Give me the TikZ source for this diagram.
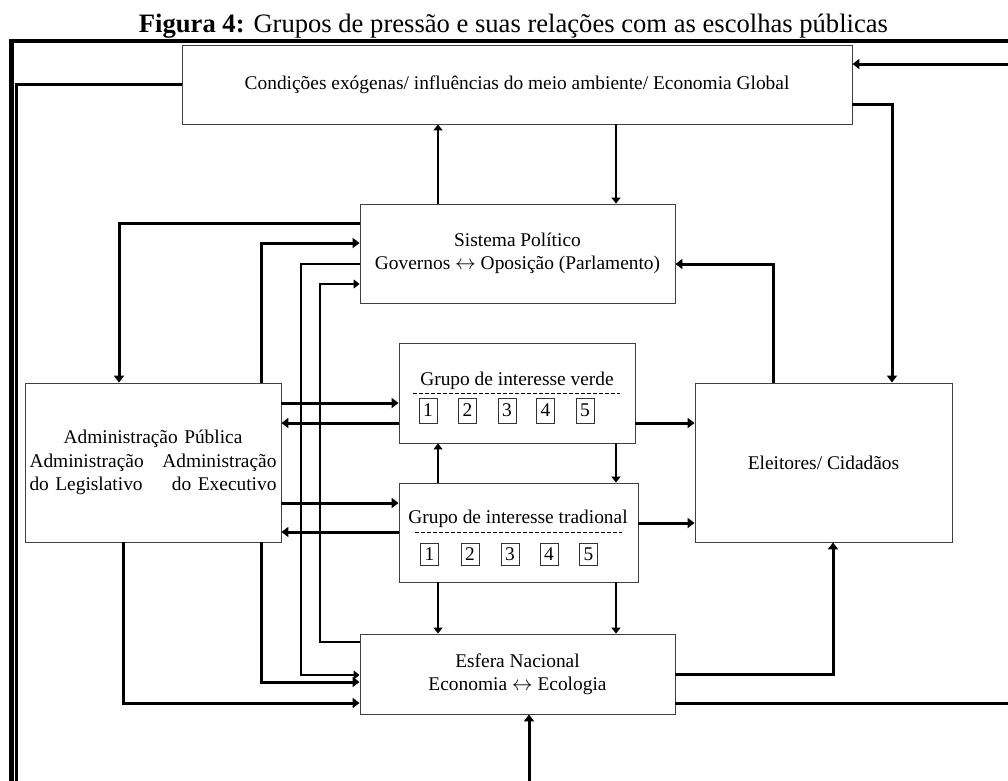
\documentclass[tikz,border=0pt]{standalone}
\usepackage{fontspec}
\setmainfont{Liberation Serif}
\usetikzlibrary{arrows.meta}

\newcommand{\twoway}{\ensuremath{\leftrightarrow}}

\tikzset{
  every node/.style={font={\fontsize{19.4}{23.5}\selectfont}},
  box/.style={draw=black!75, line width=0.9pt, inner sep=0pt, align=center},
  nbox/.style={draw=black!80, line width=0.8pt, minimum width=18pt, inner sep=0pt},
  thk/.style={line width=3pt},
  thn/.style={line width=2pt},
  tip/.style={-{Triangle[length=7pt,width=10pt]}},
  tipn/.style={-{Triangle[length=6pt,width=9pt]}},
  sep/.style={line width=0.8pt, dash pattern=on 4pt off 2pt},
}

\begin{document}
\begin{tikzpicture}[x=1pt,y=-1pt]
\useasboundingbox (0,0) rectangle (1008,780);

% title
\node[anchor=base, font={\fontsize{26.6}{30}\selectfont}] (title) at (513.5,32)
  {\textbf{Figura 4:} Grupos de pressão e suas relações com as escolhas públicas};

% outer frame
\draw[line width=4.4pt] (11.6,782) -- (11.6,41);
\draw[line width=3.6pt] (9.4,41) -- (1012,41);

% boxes
\node[box, minimum width=670pt, minimum height=79pt] (cond) at (517,84.5)
  {Condições exógenas/ influências do meio ambiente/ Economia Global};
\node[box, minimum width=315pt, minimum height=99pt] (sis) at (517.5,253.5)
  {Sistema Político\\Governos \twoway{} Oposição (Parlamento)};
\node[box, minimum width=256pt, minimum height=159pt, text width=247pt] (adm) at (153,462.5)
  {Administração Pública\\Administração\hskip 0pt plus 1filll Administração\\do Legislativo\hskip 0pt plus 1filll do Executivo};
\node[box, minimum width=236pt, minimum height=100pt] (verde) at (517,393) {};
\node[box, minimum width=239pt, minimum height=99pt] (trad) at (518.5,532.5) {};
\node[box, minimum width=257pt, minimum height=159pt] (elei) at (823.5,462.5)
  {Eleitores/ Cidadãos};
\node[box, minimum width=315pt, minimum height=80pt] (esf) at (517.5,674)
  {Esfera Nacional\\Economia \twoway{} Ecologia};

% interest groups: heading, separator and members
\node[anchor=base] (vt) at (517,385) {Grupo de interesse verde};
\draw[sep] (413,393) -- (620,393);
\foreach \x/\n in {428/1,467.5/2,507/3,545.5/4,585/5}
  \node[nbox, minimum height=25pt] (v\n) at (\x,410.5) {\n};

\node[anchor=base] (tt) at (518,523) {Grupo de interesse tradional};
\draw[sep] (415,532) -- (622,532);
\foreach \x/\n in {429.5/1,470/2,510/3,549/4,588.5/5}
  \node[nbox, minimum height=22pt] (t\n) at (\x,554) {\n};

% free ends leaving the frame
\coordinate (cl) at (16.8,782);
\coordinate (cr) at (1012,64);
\coordinate (er) at (1012,703);
\coordinate (eb) at (529,782);

% connectors around the environment box
\draw[line width=3.3pt] (cond.west) -- (16.8,84.5) -- (cl);
\draw[thk,tip] (cr) -- (cond.east |- cr);
\draw[thk,tip] (cond.east |- 0,104) -- (892,104) -- (elei.north -| 892,0);
\draw[thn,tipn] (sis.north -| 438,0) -- (cond.south -| 438,0);
\draw[thn,tipn] (cond.south -| 616,0) -- (sis.north -| 616,0);

% political system
\draw[thk,tip] (elei.north -| 773,0) -- (773,264) -- (sis.east |- 0,264);
\draw[thk,tip] (sis.west |- 0,223) -- (119,223) -- (adm.north -| 119,0);
\draw[thk,tip] (adm.north -| 261,0) -- (261,243) -- (sis.west |- 0,243);
\draw[thn,tipn] (sis.west |- 0,264) -- (301,264) -- (301,675) -- (esf.west |- 0,675);
\draw[thn,tipn] (esf.west |- 0,642) -- (320,642) -- (320,284) -- (sis.west |- 0,284);

% administration and interest groups
\draw[thk,tip] (adm.east |- 0,403) -- (verde.west |- 0,403);
\draw[thk,tip] (verde.west |- 0,423) -- (adm.east |- 0,423);
\draw[thk,tip] (adm.east |- 0,503) -- (trad.west |- 0,503);
\draw[thk,tip] (trad.west |- 0,532) -- (adm.east |- 0,532);
\draw[thk,tip] (verde.east |- 0,423) -- (elei.west |- 0,423);
\draw[thk,tip] (trad.east |- 0,523) -- (elei.west |- 0,523);
\draw[thn,tipn] (trad.north -| 438,0) -- (verde.south -| 438,0);
\draw[thn,tipn] (verde.south -| 616,0) -- (trad.north -| 616,0);
\draw[thn,tipn] (trad.south -| 438,0) -- (esf.north -| 438,0);
\draw[thn,tipn] (trad.south -| 616,0) -- (esf.north -| 616,0);

% national sphere
\draw[thk,tip] (adm.south -| 261,0) -- (261,682) -- (esf.west |- 0,682);
\draw[thk,tip] (adm.south -| 123,0) -- (123,703) -- (esf.west |- 0,703);
\draw[thk,tip] (esf.east |- 0,674) -- (833,674) -- (elei.south -| 833,0);
\draw[thk] (esf.east |- 0,703) -- (er);
\draw[thk,tip] (eb) -- (esf.south -| eb);
\end{tikzpicture}
\end{document}
